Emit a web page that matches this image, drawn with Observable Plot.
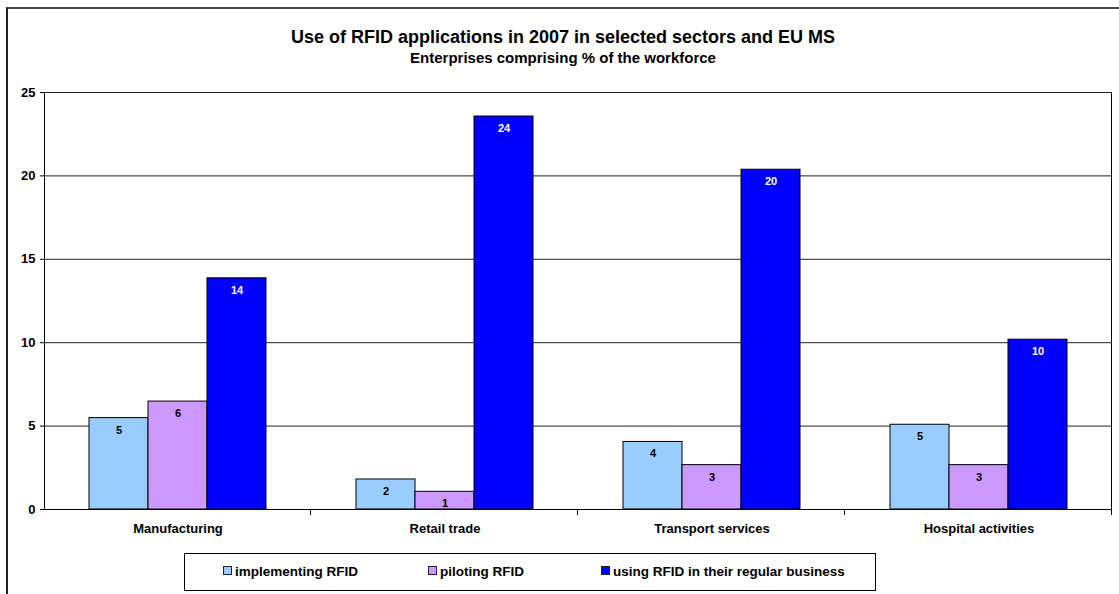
<!DOCTYPE html>
<html>
<head>
<meta charset="utf-8">
<script src="https://cdn.jsdelivr.net/npm/d3@7"></script>
<script src="https://cdn.jsdelivr.net/npm/@observablehq/plot@0.6"></script>
<style>
  html, body { margin: 0; padding: 0; background: #fff; }
  #wrap { position: relative; width: 1119px; height: 594px; overflow: hidden; font-family: "Liberation Sans", Arial, sans-serif; font-weight: bold; color: #000; }
  #frame { position: absolute; left: 6px; top: 7px; width: 1200px; height: 700px; border-left: 2px solid #222; border-top: 2px solid #444; }
  #title { position: absolute; left: 7px; width: 1112px; top: 27px; text-align: center; font-size: 18px; line-height: 20px; }
  #subtitle { position: absolute; left: 7px; width: 1112px; top: 50px; text-align: center; font-size: 15px; line-height: 16px; }
  #chart { position: absolute; left: 0; top: 80px; }
  #legend { position: absolute; left: 184px; top: 553px; width: 690px; height: 36px; border: 1px solid #000; font-size: 13.5px; }
  .item { position: absolute; top: 10px; line-height: 16px; white-space: nowrap; }
  .sw { display: inline-block; width: 7px; height: 7px; border: 1px solid #222; margin-right: 3px; vertical-align: 1px; }
</style>
</head>
<body>
<div id="wrap">
  <div id="frame"></div>
  <div id="title">Use of RFID applications in 2007 in selected sectors and EU MS</div>
  <div id="subtitle">Enterprises comprising % of the workforce</div>
  <div id="chart"></div>
  <div id="legend"></div>
</div>
<script>
const sectors = ["Manufacturing", "Retail trade", "Transport services", "Hospital activities"];
const series = ["implementing RFID", "piloting RFID", "using RFID in their regular business"];
const implementing = [5.48, 1.8, 4.05, 5.08];
const piloting = [6.47, 1.06, 2.66, 2.66];
const regular = [13.86, 23.56, 20.37, 10.18];
const colors = ["#99CCFF", "#CC99FF", "#0000FF"];
const yTicks = [0, 5, 10, 15, 20, 25];

const seriesValues = [implementing, piloting, regular];
const data = [];
sectors.forEach((s, i) => series.forEach((k, j) => data.push({sector: s, series: k, value: seriesValues[j][i]})));

const plot = Plot.plot({
  width: 1119,
  height: 465,
  marginLeft: 43,
  marginRight: 7,
  marginTop: 12,
  marginBottom: 36,
  style: {fontFamily: "'Liberation Sans', Arial, sans-serif", fontSize: "13px", fontWeight: "bold", background: "transparent", overflow: "visible"},
  fx: {domain: sectors, padding: 0, label: null, tickSize: 0, tickPadding: 14, axis: "bottom"},
  x: {domain: series, axis: null, paddingInner: 0, paddingOuter: 0.74},
  y: {domain: [0, 25], ticks: yTicks, tickSize: 4, tickPadding: 5, label: null},
  color: {domain: series, range: colors},
  marks: [
    Plot.ruleY(yTicks.filter(d => d > 0), {stroke: "#222", strokeWidth: 1}),
    Plot.barY(data, {fx: "sector", x: "series", y: "value", fill: "series", stroke: "#000", strokeWidth: 1}),
    Plot.text(data.filter(d => d.series !== series[2]), {fx: "sector", x: "series", y: "value", text: d => d3.format(".0f")(d.value), dy: 12, fill: "#000", fontSize: 11}),
    Plot.text(data.filter(d => d.series === series[2]), {fx: "sector", x: "series", y: "value", text: d => d3.format(".0f")(d.value), dy: 12, fill: "#fff", fontSize: 11}),
    Plot.ruleY([0], {stroke: "#000", strokeWidth: 1})
  ]
});
document.getElementById("chart").appendChild(plot);

// plot-area border and category boundary ticks, positioned from Plot's own scales
const fx = plot.scale("fx"), y = plot.scale("y");
const svg = d3.select(plot);
const left = fx.apply(sectors[0]);
const right = fx.apply(sectors[sectors.length - 1]) + fx.bandwidth;
const y0 = y.apply(0), yTop = y.apply(25);
const g = svg.append("g").attr("stroke", "#000").attr("stroke-width", 1);
g.append("line").attr("x1", Math.round(left) + 0.5).attr("x2", Math.round(left) + 0.5).attr("y1", yTop).attr("y2", y0);
g.append("line").attr("x1", Math.round(right) - 0.5).attr("x2", Math.round(right) - 0.5).attr("y1", yTop).attr("y2", y0);
sectors.forEach(s => {
  const xb = Math.round(fx.apply(s) + fx.bandwidth) - 0.5;
  g.append("line").attr("x1", xb).attr("x2", xb).attr("y1", y0).attr("y2", y0 + 6);
});

// legend
const legend = document.getElementById("legend");
const legendLeft = [38, 243, 416];
series.forEach((k, j) => {
  const it = document.createElement("div");
  it.className = "item";
  it.style.left = legendLeft[j] + "px";
  const sw = document.createElement("span");
  sw.className = "sw";
  sw.style.background = colors[j];
  it.appendChild(sw);
  it.appendChild(document.createTextNode(k));
  legend.appendChild(it);
});
</script>
</body>
</html>
